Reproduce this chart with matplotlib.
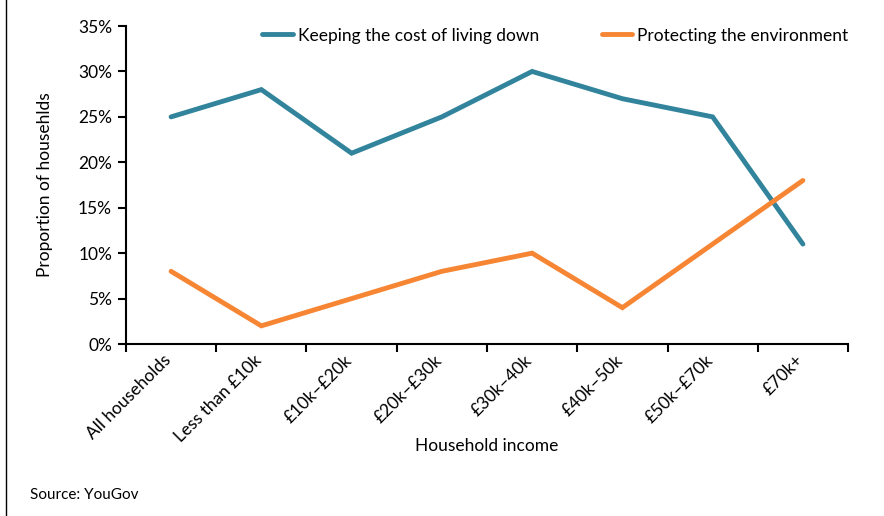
import matplotlib.pyplot as plt
import matplotlib.transforms as mtransforms
from matplotlib.lines import Line2D
from matplotlib.ticker import FixedLocator, PercentFormatter

categories = ['All households', 'Less than £10k', '£10k–£20k', '£20k–£30k',
              '£30k–40k', '£40k–50k', '£50k–£70k', '£70k+']
cost_of_living = [25, 28, 21, 25, 30, 27, 25, 11]
environment = [8, 2, 5, 8, 10, 4, 11, 18]

plt.rcParams['font.family'] = ['Lato', 'DejaVu Sans']
plt.rcParams['font.size'] = 12.5

fig = plt.figure(figsize=(8.84, 5.16), dpi=100)
ax = fig.add_axes([0.1425, 0.3333, 0.8168, 0.6163])

x = range(len(categories))
ax.plot(x, cost_of_living, color='#31849B', lw=3.5, solid_capstyle='round',
        solid_joinstyle='miter', label='Keeping the cost of living down')
ax.plot(x, environment, color='#F68634', lw=3.5, solid_capstyle='round',
        solid_joinstyle='miter', label='Protecting the environment')

ax.set_xlim(-0.5, len(categories) - 0.5)
ax.set_ylim(0, 35)
ax.set_yticks(range(0, 36, 5))
ax.yaxis.set_major_formatter(PercentFormatter(decimals=0))

# category labels centred, tick marks between categories
ax.set_xticks(list(x))
ax.set_xticklabels(categories, rotation=45, ha='right', rotation_mode='anchor')
ax.xaxis.set_minor_locator(FixedLocator([i - 0.5 for i in range(len(categories) + 1)]))
ax.tick_params(axis='x', which='major', length=0, pad=8)
ax.tick_params(axis='x', which='minor', length=6, width=1.5, direction='out')
ax.tick_params(axis='y', length=6, width=1.5, direction='out', pad=4)

# nudge rotated labels a little to the left (after tick_params, which resets transforms)
shift = mtransforms.ScaledTranslation(-8 / 100, 3 / 100, fig.dpi_scale_trans)
for lab in ax.get_xticklabels():
    lab.set_transform(lab.get_transform() + shift)

for s in ['top', 'right']:
    ax.spines[s].set_visible(False)
for s in ['left', 'bottom']:
    ax.spines[s].set_linewidth(1.5)

ax.set_ylabel('Proportion of househlds')
ax.yaxis.set_label_coords(-0.101, 0.5)
ax.set_xlabel('Household income')
ax.xaxis.set_label_coords(0.5, -0.296)

ax.legend(loc='upper right', bbox_to_anchor=(1.01, 1.017), ncol=2, frameon=False,
          handlelength=1.75, handletextpad=0.3, columnspacing=3.6,
          borderaxespad=0, fontsize=12.5)

fig.text(0.034, 0.033, 'Source: YouGov', fontsize=11)
fig.add_artist(Line2D([0.007, 0.007], [0, 1], color='black', lw=1,
                      transform=fig.transFigure))

fig.savefig('out.png', dpi=100)
